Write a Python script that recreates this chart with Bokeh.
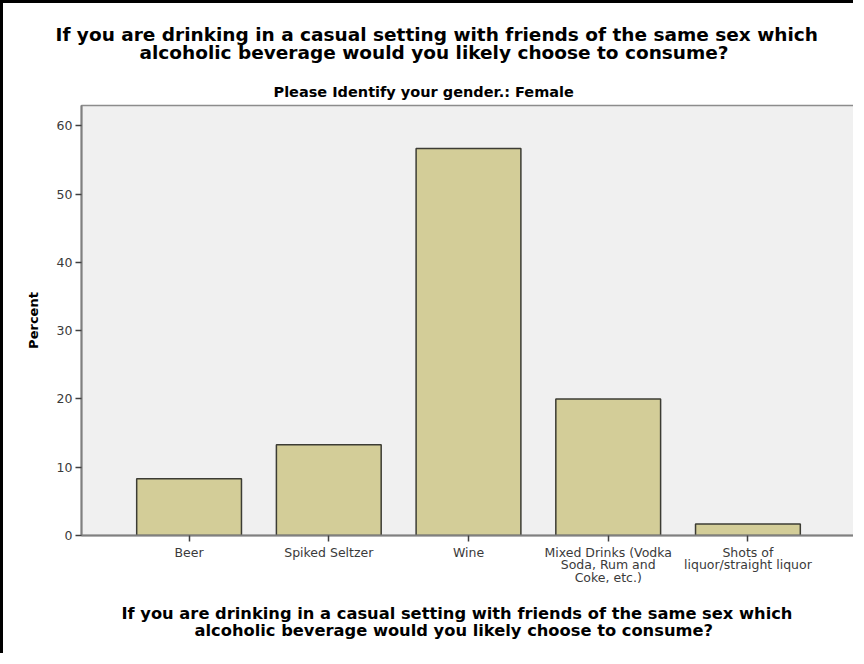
from bokeh.plotting import figure
from bokeh.models import ColumnDataSource, FactorRange, Range1d, Title, FixedTicker
from bokeh.embed import file_html
from bokeh.resources import INLINE

# ---- data ----
categories = [
    "Beer",
    "Spiked Seltzer",
    "Wine",
    "Mixed Drinks (Vodka\nSoda, Rum and\nCoke, etc.)",
    "Shots of\nliquor/straight liquor",
]
percent = [8.3, 13.3, 56.7, 20.0, 1.7]
y_ticks = [0, 10, 20, 30, 40, 50, 60]

title_line1 = "If you are drinking in a casual setting with friends of the same sex which"
title_line2 = "alcoholic beverage would you likely choose to consume?"
subtitle = "Please Identify your gender.: Female"
y_label = "Percent"

src = ColumnDataSource(data=dict(cat=categories, pct=percent))

p = figure(
    x_range=FactorRange(factors=categories, range_padding=0.27, range_padding_units="absolute"),
    y_range=Range1d(0, 63),
    width=853, height=653,
    output_backend="svg", toolbar_location=None,
    min_border_left=78, min_border_right=1, min_border_top=102, min_border_bottom=121,
    background_fill_color="#f0f0f0", border_fill_color="white",
)
p.styles = {"border-top": "3px solid black", "border-left": "3px solid black"}

p.vbar(x="cat", top="pct", width=0.75, source=src,
       fill_color="#d3cd98", line_color="#3c3c34", line_width=1.5)

p.outline_line_color = "#8c8c8c"
p.outline_line_width = 1.5
p.grid.visible = False

for ax in (p.xaxis, p.yaxis):
    ax.axis_line_color = "#808080"
    ax.axis_line_width = 2
    ax.major_tick_line_color = "#404040"
    ax.major_tick_line_width = 1.5
    ax.major_tick_out = 6
    ax.major_tick_in = 0
    ax.minor_tick_line_color = None
    ax.major_label_text_font = "DejaVu Sans"
    ax.major_label_text_font_size = "12.5px"
    ax.major_label_text_line_height = 0.85
    ax.major_label_text_color = "#3a3a3a"

p.yaxis.ticker = FixedTicker(ticks=y_ticks)
p.yaxis.major_label_standoff = 3
p.yaxis.axis_label = y_label
p.yaxis.axis_label_text_font = "DejaVu Sans"
p.yaxis.axis_label_text_font_style = "bold"
p.yaxis.axis_label_text_font_size = "13px"
p.yaxis.axis_label_text_color = "black"
p.yaxis.axis_label_standoff = 13

p.xaxis.major_label_standoff = 3


def add_title(txt, where, size, offset, standoff, valign="bottom"):
    p.add_layout(Title(text=txt, align="left", offset=offset, standoff=standoff,
                       vertical_align=valign,
                       text_font="DejaVu Sans", text_font_style="bold",
                       text_font_size=size, text_color="black"), where)


# above: first added is closest to the frame
add_title(subtitle, "above", "14.5px", 192, 12)
add_title(title_line2, "above", "18.5px", 58, 25)
add_title(title_line1, "above", "18.5px", -26, -34)
# below: first added is closest to the axis
add_title(title_line1, "below", "16.3px", 40, 26)
add_title(title_line2, "below", "16.3px", 113, -30, "top")

open("out.html", "w").write(file_html(p, INLINE))
